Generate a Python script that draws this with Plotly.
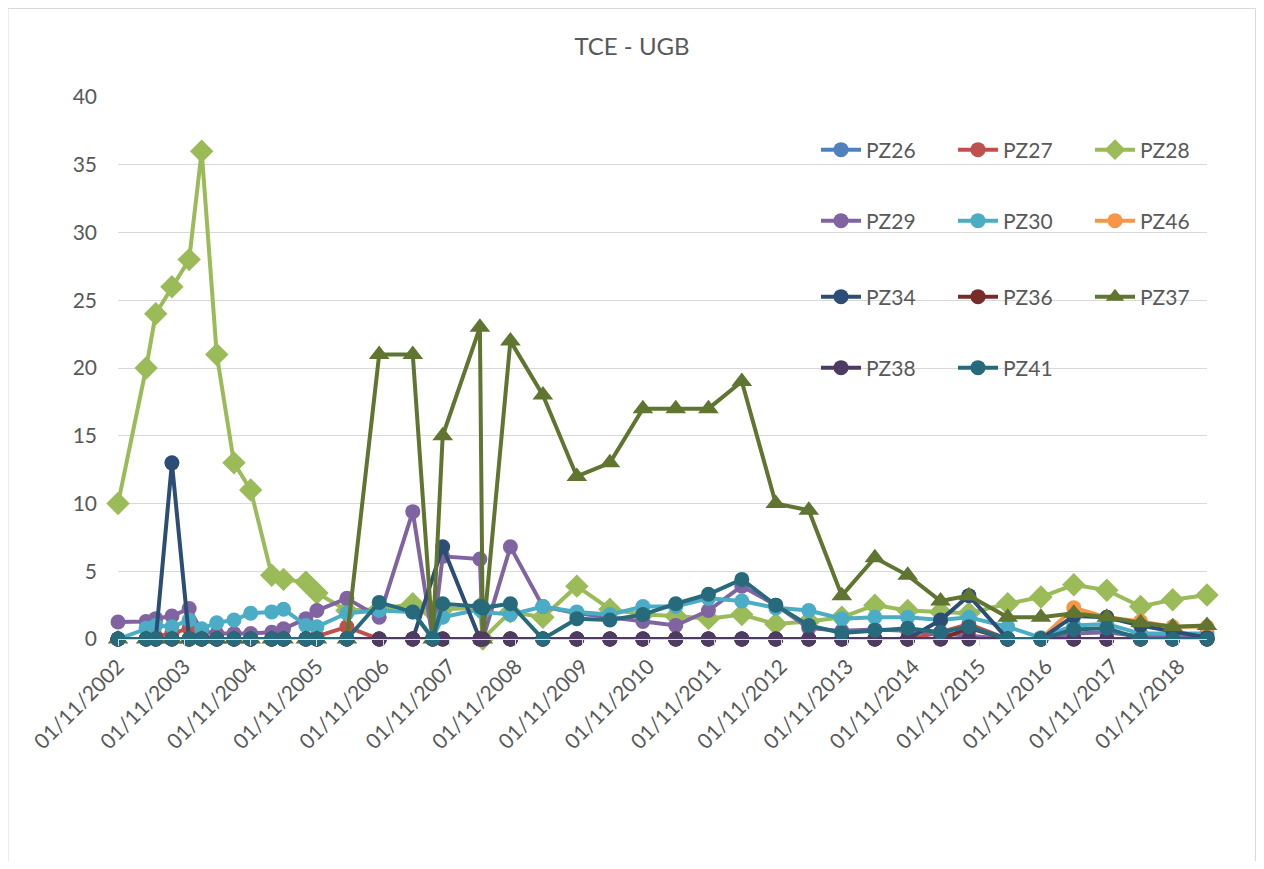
import plotly.graph_objects as go

dates = ["2002-11-01", "2003-04-05", "2003-05-28", "2003-08-25", "2003-11-28", "2004-02-05",
         "2004-04-28", "2004-08-01", "2004-11-01", "2005-02-25", "2005-05-01", "2005-09-01",
         "2005-11-01", "2006-04-15", "2006-10-10", "2007-04-13", "2007-08-01", "2007-09-25",
         "2008-04-17", "2008-05-03", "2008-10-02", "2009-03-30", "2009-10-03", "2010-04-03",
         "2010-10-02", "2011-04-01", "2011-09-28", "2012-03-30", "2012-10-03", "2013-04-03",
         "2013-10-02", "2014-04-02", "2014-09-30", "2015-03-30", "2015-09-02", "2016-04-03",
         "2016-10-03", "2017-04-02", "2017-10-01", "2018-04-05", "2018-09-29", "2019-04-06"]

tick_vals = ["2002-11-01", "2003-11-01", "2004-11-01", "2005-11-01", "2006-11-01", "2007-11-01",
             "2008-11-01", "2009-11-01", "2010-11-01", "2011-11-01", "2012-11-01", "2013-11-01",
             "2014-11-01", "2015-11-01", "2016-11-01", "2017-11-01", "2018-11-01"]
tick_text = ["01/11/2002", "01/11/2003", "01/11/2004", "01/11/2005", "01/11/2006", "01/11/2007",
             "01/11/2008", "01/11/2009", "01/11/2010", "01/11/2011", "01/11/2012", "01/11/2013",
             "01/11/2014", "01/11/2015", "01/11/2016", "01/11/2017", "01/11/2018"]

PZ26 = [0, 0, 0, 0, 0, 0, 0, 0, 0, 0, 0, 0, 0, 0, 0, 0, 0, 0, 0, 0, 0,
        0, 0, 0, 0, 0, 0, 0, 0, 0, 0, 0, 0, 0, 0, 0, 0, 0, 0, 0, 0, 0]
PZ27 = [0, 0, 0.2, 0.4, 0.8, 0.2, 0, 0, 0, 0, 0, 0, 0.2, 0.9, 0, 0, 0, 0, 0, 0, 0,
        0, 0, 0, 0, 0, 0, 0, 0, 0, 0, 0, 0, 0.5, 1.1, 0, 0, 0, 0, 0, 0, 0]
PZ28 = [10, 20, 24, 26, 28, 36, 21, 13, 11, 4.7, 4.4, 4.2, 3.4, 2.1, 2.2, 2.6, 2.0, 2.2, 2.3, 0, 2.0,
        1.6, 3.9, 2.2, 1.8, 1.7, 1.5, 1.8, 1.1, 1.3, 1.6, 2.5, 2.1, 2.0, 1.9, 2.6, 3.1, 4.0, 3.6, 2.4, 2.9, 3.25]
PZ29 = [1.25, 1.3, 1.5, 1.7, 2.25, 0.6, 0.4, 0.4, 0.4, 0.5, 0.75, 1.5, 2.1, 3.0, 1.6, 9.4, 0, 6.1, 5.9, 0, 6.8,
        2.4, 1.9, 1.6, 1.3, 1.0, 2.1, 3.9, 2.5, 0.8, 0.6, 0.7, 0.6, 0.4, 0.3, 0, 0, 0.4, 0.5, 0.2, 0.2, 0.1]
PZ30 = [0, 0.8, 1.0, 0.9, 1.4, 0.75, 1.2, 1.4, 1.9, 2.0, 2.2, 1.0, 0.9, 1.9, 2.1, 2.0, 0.1, 1.6, 2.2, 2.0, 1.8,
        2.4, 2.0, 1.8, 2.4, 2.4, 3.0, 2.8, 2.3, 2.1, 1.5, 1.6, 1.6, 1.4, 1.6, 0.9, 0.1, 1.0, 1.1, 0.4, 0.4, 0.4]
PZ46 = [None, None, None, None, None, None, None, None, None, None, None, None, None, None, None, None,
        None, None, None, None, None, None, None, None, None, None, None, None, None, None, None, None,
        None, None, None, None, 0, 2.3, 1.6, 1.3, 0.9, 0.9]
PZ34 = [0, 0, 0, 13, 0, 0, 0, 0, 0, 0, 0, 0, 0, 0, 0, 0, None, 6.8, 0, 0, 0,
        0, 0, 0, 0, 0, 0, 0, 0, 0, 0, 0, 0, 1.4, 3.2, 0, 0, 1.7, 1.6, 1.0, 0.6, 0.1]
PZ36 = [0, 0, 0, 0, 0, 0, 0, 0, 0, 0, 0, 0, 0, 0, 0, 0, 0, 0, 0, 0, 0,
        0, 0, 0, 0, 0, 0, 0, 0, 0, 0, 0, 0, 0, 0.8, 0, 0, 0, 0, 0, 0, 0]
PZ37 = [0, 0, 0, 0, 0, 0, 0, 0, 0, 0, 0, 0, 0, 0, 21, 21, 0, 15, 23, 0, 22,
        18, 12, 13, 17, 17, 17, 19, 10, 9.5, 3.2, 6.0, 4.7, 2.8, 3.2, 1.6, 1.6, 1.9, 1.6, 1.2, 0.9, 1.0]
PZ38 = [0, 0, 0, 0, 0, 0, 0, 0, 0, 0, 0, 0, 0, 0, 0, 0, 0, 0, 0, 0, 0,
        0, 0, 0, 0, 0, 0, 0, 0, 0, 0, 0, 0, 0, 0, 0, 0, 0, 0, 0, 0, 0]
PZ41 = [0, 0, 0, 0, 0, 0, 0, 0, 0, 0, 0, 0, 0, 0, 2.7, 2.0, 0, 2.6, 2.4, 2.3, 2.6,
        0, 1.5, 1.4, 1.8, 2.6, 3.3, 4.4, 2.5, 1.0, 0.45, 0.65, 0.8, 0.5, 0.9, 0, 0, 0.7, 0.8, 0, 0, 0]

series = [
    ("PZ26", PZ26, "#4F81BD", "circle", "legend"),
    ("PZ27", PZ27, "#C0504D", "circle", "legend"),
    ("PZ28", PZ28, "#9BBB59", "diamond", "legend"),
    ("PZ29", PZ29, "#8064A2", "circle", "legend2"),
    ("PZ30", PZ30, "#4BACC6", "circle", "legend2"),
    ("PZ46", PZ46, "#F79646", "circle", "legend2"),
    ("PZ34", PZ34, "#2C4D75", "circle", "legend3"),
    ("PZ36", PZ36, "#772C2A", "circle", "legend3"),
    ("PZ37", PZ37, "#5F7530", "triangle-up", "legend3"),
    ("PZ38", PZ38, "#4D3B62", "circle", "legend4"),
    ("PZ41", PZ41, "#276A7C", "circle", "legend4"),
]

FONT = "Lato, 'Open Sans', sans-serif"
GREY = "#595959"

fig = go.Figure()
for name, vals, color, sym, leg in series:
    size = 15 if sym == "circle" else 18
    fig.add_trace(go.Scatter(
        x=dates, y=vals, name=name, mode="lines+markers",
        line=dict(color=color, width=4),
        marker=dict(symbol=sym, size=size, color=color, line=dict(width=0)),
        connectgaps=True, cliponaxis=False, legend=leg,
    ))

# the page body adds an 8 px offset; figure coordinates are screen coordinates minus 8
OFF = 8
W, H = 1264 - 2 * OFF, 869 - 2 * OFF
L, R, T, B = 118 - OFF, 1207 - OFF, 97 - OFF, 639 - OFF


def px(x):
    return (x - OFF - L) / (R - L)


def py(y):
    return (B - (y - OFF)) / (B - T)


leg_common = dict(orientation="h", xanchor="left", yanchor="middle",
                  entrywidth=82, entrywidthmode="pixels", itemwidth=40,
                  font=dict(family=FONT, size=21, color=GREY),
                  bgcolor="rgba(0,0,0,0)", x=px(816))

fig.update_layout(
    width=W, height=H,
    margin=dict(l=L, r=W - R, t=T, b=H - B, pad=0, autoexpand=False),
    paper_bgcolor="white", plot_bgcolor="white",
    font=dict(family=FONT, color=GREY),
    title=dict(text="TCE - UGB", x=0.5, xanchor="center", y=1 - (47 - OFF) / H, yanchor="middle",
               font=dict(family=FONT, size=24, color=GREY)),
    legend=dict(leg_common, y=py(150)),
    legend2=dict(leg_common, y=py(221)),
    legend3=dict(leg_common, y=py(297)),
    legend4=dict(leg_common, y=py(368)),
    xaxis=dict(type="date", range=[dates[0], dates[-1]], tickvals=tick_vals, ticktext=tick_text,
               tickangle=-45, tickfont=dict(family=FONT, size=21, color=GREY),
               showgrid=False, showline=True, linecolor="#D9D9D9", linewidth=1,
               ticks="outside", ticklen=6, tickcolor="#D9D9D9", zeroline=False,
               automargin=False),
    yaxis=dict(range=[0, 40], dtick=5, tickfont=dict(family=FONT, size=21, color=GREY),
               showgrid=True, gridcolor="#D9D9D9", gridwidth=1.3, zeroline=False,
               showline=False, ticks="", ticklabelstandoff=20, automargin=False),
    shapes=[dict(type="rect", xref="paper", yref="paper",
                 x0=px(8), x1=px(1255.5), y0=py(880), y1=py(8.5),
                 line=dict(color="#D9D9D9", width=1), layer="below")],
)

fig.write_html("out.html")
